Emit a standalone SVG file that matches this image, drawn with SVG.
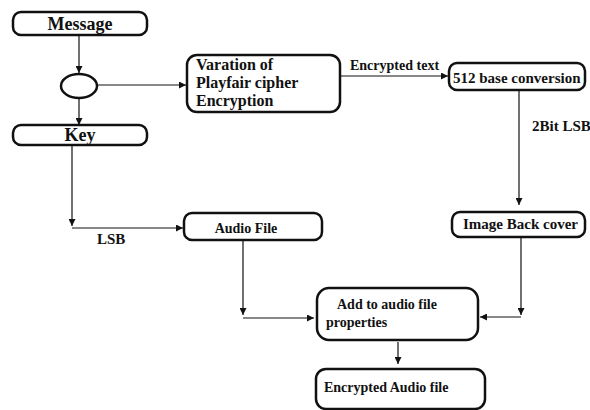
<svg xmlns="http://www.w3.org/2000/svg" width="590" height="410" viewBox="0 0 590 410">
  <defs>
    <marker id="arrow" viewBox="0 0 10 10" refX="10" refY="5" markerWidth="7" markerHeight="7" markerUnits="userSpaceOnUse" orient="auto">
      <path d="M0,0 L10,5 L0,10 z" fill="#111"/>
    </marker>
    <style>
      .box { fill: #fff; stroke: #111; stroke-width: 2.5; }
      .lbl { font-family: "Liberation Serif", "Times New Roman", serif; font-weight: bold; fill: #111; }
      .edge { fill: none; stroke: #111; stroke-width: 1.2; }
      .edge.arr { marker-end: url(#arrow); }
    </style>
  </defs>
  <rect width="590" height="410" fill="#fff"/>

  <g id="connectors">
    <path class="edge arr" d="M79,35 V73"/>
    <path class="edge arr" d="M79,98 V125"/>
    <path class="edge arr" d="M97,85 H186"/>
    <path class="edge arr" d="M340,76 H448"/>
    <path class="edge arr" d="M519,90 V205"/>
    <path class="edge arr" d="M72,146 V226"/>
    <path class="edge arr" d="M72,228 H183"/>
    <path class="edge arr" d="M243,240 V315"/>
    <path class="edge arr" d="M243,318 H314"/>
    <path class="edge arr" d="M521,237 V315"/>
    <path class="edge arr" d="M521,317 H480"/>
    <path class="edge arr" d="M398,342 V364"/>
    <text class="lbl" x="350" y="70" font-size="14">Encrypted text</text>
    <text class="lbl" x="532" y="131" font-size="15">2Bit LSB</text>
    <text class="lbl" x="97" y="244" font-size="15">LSB</text>
  </g>

  <g id="message">
    <rect class="box" x="13" y="12" width="134" height="23" rx="8"/>
    <text class="lbl" x="80" y="30" font-size="18" text-anchor="middle">Message</text>
  </g>

  <g id="junction">
    <ellipse class="box" cx="79" cy="86" rx="18" ry="12" stroke-width="2"/>
  </g>

  <g id="key">
    <rect class="box" x="13" y="125" width="134" height="20" rx="8"/>
    <text class="lbl" x="80" y="141" font-size="18" text-anchor="middle">Key</text>
  </g>

  <g id="playfair">
    <rect class="box" x="187" y="55" width="153" height="57" rx="10"/>
    <text class="lbl" x="196" y="70" font-size="16">Varation of</text>
    <text class="lbl" x="196" y="88" font-size="16">Playfair cipher</text>
    <text class="lbl" x="196" y="106" font-size="16">Encryption</text>
  </g>

  <g id="base512">
    <rect class="box" x="449" y="63" width="136" height="27" rx="8"/>
    <text class="lbl" x="453" y="83" font-size="15">512 base conversion</text>
  </g>

  <g id="image-cover">
    <rect class="box" x="452" y="212" width="133" height="25" rx="8"/>
    <text class="lbl" x="463" y="229" font-size="15">Image Back cover</text>
  </g>

  <g id="audio-file">
    <rect class="box" x="184" y="213" width="138" height="27" rx="8"/>
    <text class="lbl" x="246" y="233" font-size="14" text-anchor="middle">Audio File</text>
  </g>

  <g id="add-properties">
    <rect class="box" x="317" y="288" width="161" height="52" rx="12"/>
    <text class="lbl" x="337" y="309" font-size="14">Add to audio file</text>
    <text class="lbl" x="326" y="327" font-size="14">properties</text>
  </g>

  <g id="encrypted-audio">
    <rect class="box" x="316" y="369" width="169" height="40" rx="10"/>
    <text class="lbl" x="324" y="392" font-size="14">Encrypted Audio file</text>
  </g>
</svg>
